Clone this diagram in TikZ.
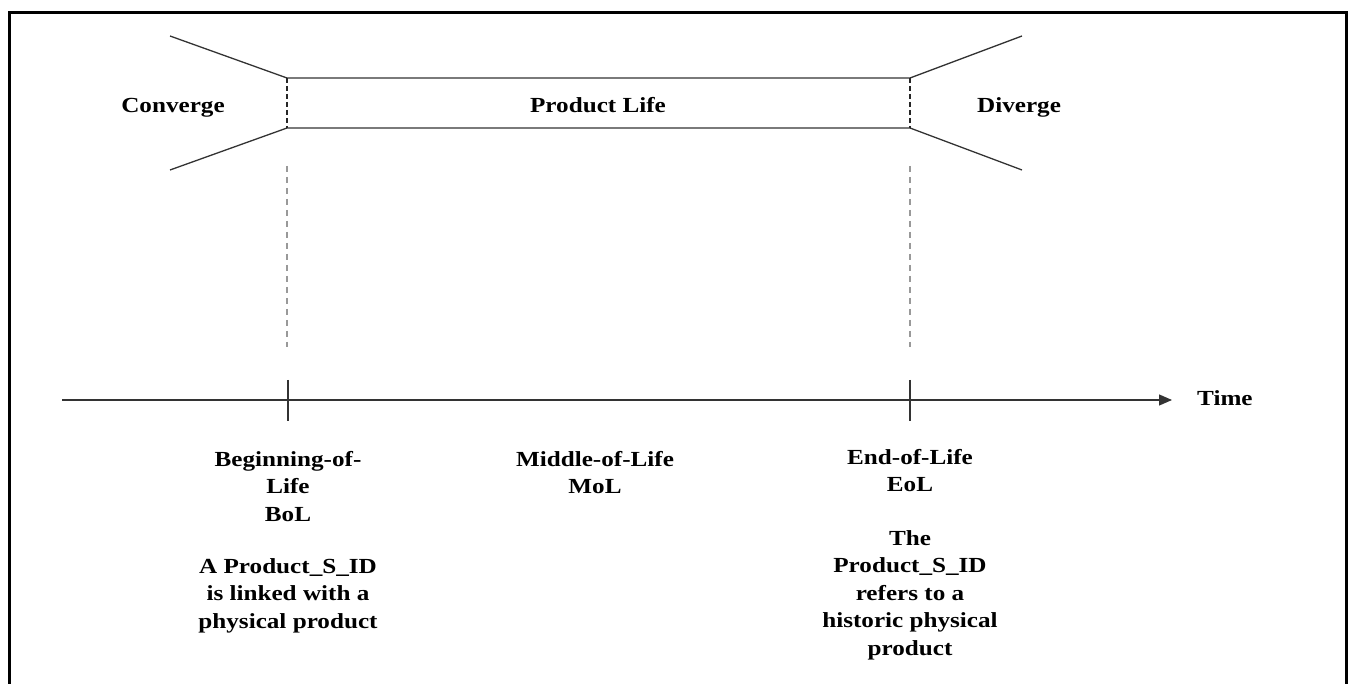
\documentclass[tikz,border=0pt]{standalone}
\usepackage{fontspec}
\setmainfont{Liberation Serif}[FakeStretch=1.17]
\usetikzlibrary{arrows.meta}
\tikzset{
  lbl/.style={font=\fontsize{21.5}{27.5}\selectfont\bfseries, inner sep=0pt, align=center},
  thin line/.style={line width=1.3pt, draw=black!80},
  box edge/.style={line width=1.6pt, draw=black!85, dash pattern=on 5pt off 3pt},
  guide/.style={line width=2pt, draw=black!40, dash pattern=on 6pt off 5pt},
  frame/.style={line width=3pt, draw=black},
}
\begin{document}
\begin{tikzpicture}[x=1pt,y=-1pt]
\useasboundingbox (0,0) rectangle (1349,684);
% frame
\draw[frame] (9,690) -- (9,13) -- (1346,13) -- (1346,690);
% key points
\coordinate (LT) at (287,78);
\coordinate (LB) at (287,128);
\coordinate (RT) at (910,78);
\coordinate (RB) at (910,128);
\coordinate (cu) at (170,36);
\coordinate (cl) at (170,170);
\coordinate (du) at (1022,36);
\coordinate (dl) at (1022,170);
% funnel and product life band
\draw[thin line] (cu) -- (LT) -- (RT) -- (du);
\draw[thin line] (cl) -- (LB) -- (RB) -- (dl);
\draw[box edge] (LT) -- (LB);
\draw[box edge] (RT) -- (RB);
% guides
\coordinate (gl1) at (287,166);
\coordinate (gl2) at (287,347);
\coordinate (gr1) at (910,166);
\coordinate (gr2) at (910,347);
\draw[guide] (gl1) -- (gl2);
\draw[guide] (gr1) -- (gr2);
% axis
\coordinate (a0) at (62,400);
\coordinate (a1) at (1172,400);
\draw[thin line, -{Triangle[length=13pt,width=11pt]}] (a0) -- (a1);
\coordinate (t1a) at (288,380);
\coordinate (t1b) at (288,421);
\coordinate (t2a) at (910,380);
\coordinate (t2b) at (910,421);
\draw[thin line] (t1a) -- (t1b);
\draw[thin line] (t2a) -- (t2b);
% labels
\node[lbl, anchor=base] (conv) at (173,113) {Converge};
\node[lbl, anchor=base] (plife) at (598,113) {Product Life};
\node[lbl, anchor=base] (div) at (1019,113) {Diverge};
\node[lbl, anchor=base west] (time) at (1197,406) {Time};
\node[lbl, anchor=north] (bol) at (288,451) {Beginning-of-\\Life\\BoL};
\node[lbl, anchor=north] (bold) at (288,558) {A Product\_S\_ID\\is linked with a\\physical product};
\node[lbl, anchor=north] (mol) at (595,451) {Middle-of-Life\\MoL};
\node[lbl, anchor=north] (eol) at (910,449) {End-of-Life\\EoL};
\node[lbl, anchor=north] (eold) at (910,530) {The\\Product\_S\_ID\\refers to a\\historic physical\\product};
\end{tikzpicture}
\end{document}
